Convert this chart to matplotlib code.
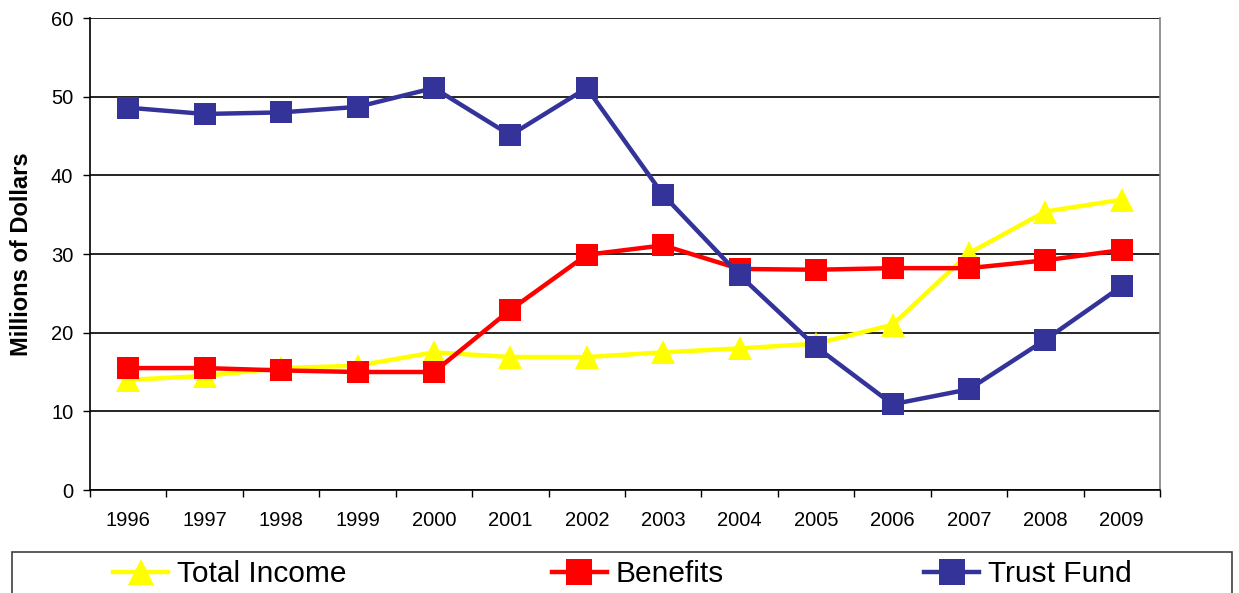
import matplotlib
matplotlib.use("Agg")
import matplotlib.pyplot as plt
from matplotlib.patches import Rectangle
import numpy as np

plt.rcParams['font.family'] = ['Liberation Sans', 'DejaVu Sans']

years = ['1996', '1997', '1998', '1999', '2000', '2001', '2002',
         '2003', '2004', '2005', '2006', '2007', '2008', '2009']
total_income = [14.0, 14.5, 15.5, 15.8, 17.5, 16.9, 16.9,
                17.5, 18.0, 18.6, 21.0, 30.1, 35.4, 36.9]
benefits = [15.5, 15.5, 15.2, 15.0, 15.0, 22.9, 29.9,
            31.1, 28.1, 28.0, 28.2, 28.2, 29.2, 30.5]
trust_fund = [48.6, 47.8, 48.0, 48.7, 51.1, 45.1, 51.1,
              37.5, 27.3, 18.2, 10.9, 12.8, 19.1, 25.9]

W, H = 1239, 593
fig = plt.figure(figsize=(W / 100, H / 100), dpi=100)
ax = fig.add_axes([90 / W, 1 - 490 / H, 1070 / W, 472 / H])

x = np.arange(len(years))
series = [
    ('Total Income', total_income, '#FFFF00', '^', 17.5),
    ('Benefits', benefits, '#FF0000', 's', 16.5),
    ('Trust Fund', trust_fund, '#333399', 's', 16.5),
]
handles = []
for name, vals, col, mk, ms in series:
    h, = ax.plot(x, vals, color=col, lw=3.2, marker=mk, ms=ms,
                 markeredgewidth=0, label=name, zorder=3)
    handles.append(h)

ax.set_xlim(-0.5, len(years) - 0.5)
ax.set_ylim(0, 60)
ax.set_yticks(np.arange(0, 61, 10))
ax.yaxis.grid(True, color='black', lw=1.2)
ax.set_axisbelow(True)

# category ticks sit between the years, labels centred under each year
ax.set_xticks(np.arange(-0.5, len(years), 1.0))
ax.set_xticklabels([])
ax.set_xticks(x, minor=True)
ax.set_xticklabels(years, minor=True, fontsize=14.5)
ax.tick_params(axis='x', which='major', direction='out', length=5, width=1)
ax.tick_params(axis='x', which='minor', length=0, pad=15)
ax.tick_params(axis='y', direction='out', length=5, width=1, labelsize=14.5, pad=7)

for s in ['left', 'bottom']:
    ax.spines[s].set_color('black')
    ax.spines[s].set_linewidth(1.2)
ax.spines['top'].set_visible(False)
ax.spines['right'].set_color('#808080')
ax.spines['right'].set_linewidth(1.2)

ax.set_ylabel('Millions of Dollars', fontsize=17, fontweight='bold')
ax.yaxis.set_label_coords((33 - 90) / 1070, 0.5)

# legend box along the bottom edge
fig.patches.append(Rectangle((12 / W, -0.05), 1220 / W, (H - 552) / H + 0.05,
                             transform=fig.transFigure, fill=False,
                             edgecolor='#404040', lw=1.2))
centers = [230, 638, 1028]
for h, cx in zip(handles, centers):
    fig.legend(handles=[h], loc='center', bbox_to_anchor=(cx / W, 1 - 574 / H),
               frameon=False, fontsize=21.5, handlelength=1.85,
               handletextpad=0.3, markerscale=1.1)

fig.savefig('out.png', dpi=100)
